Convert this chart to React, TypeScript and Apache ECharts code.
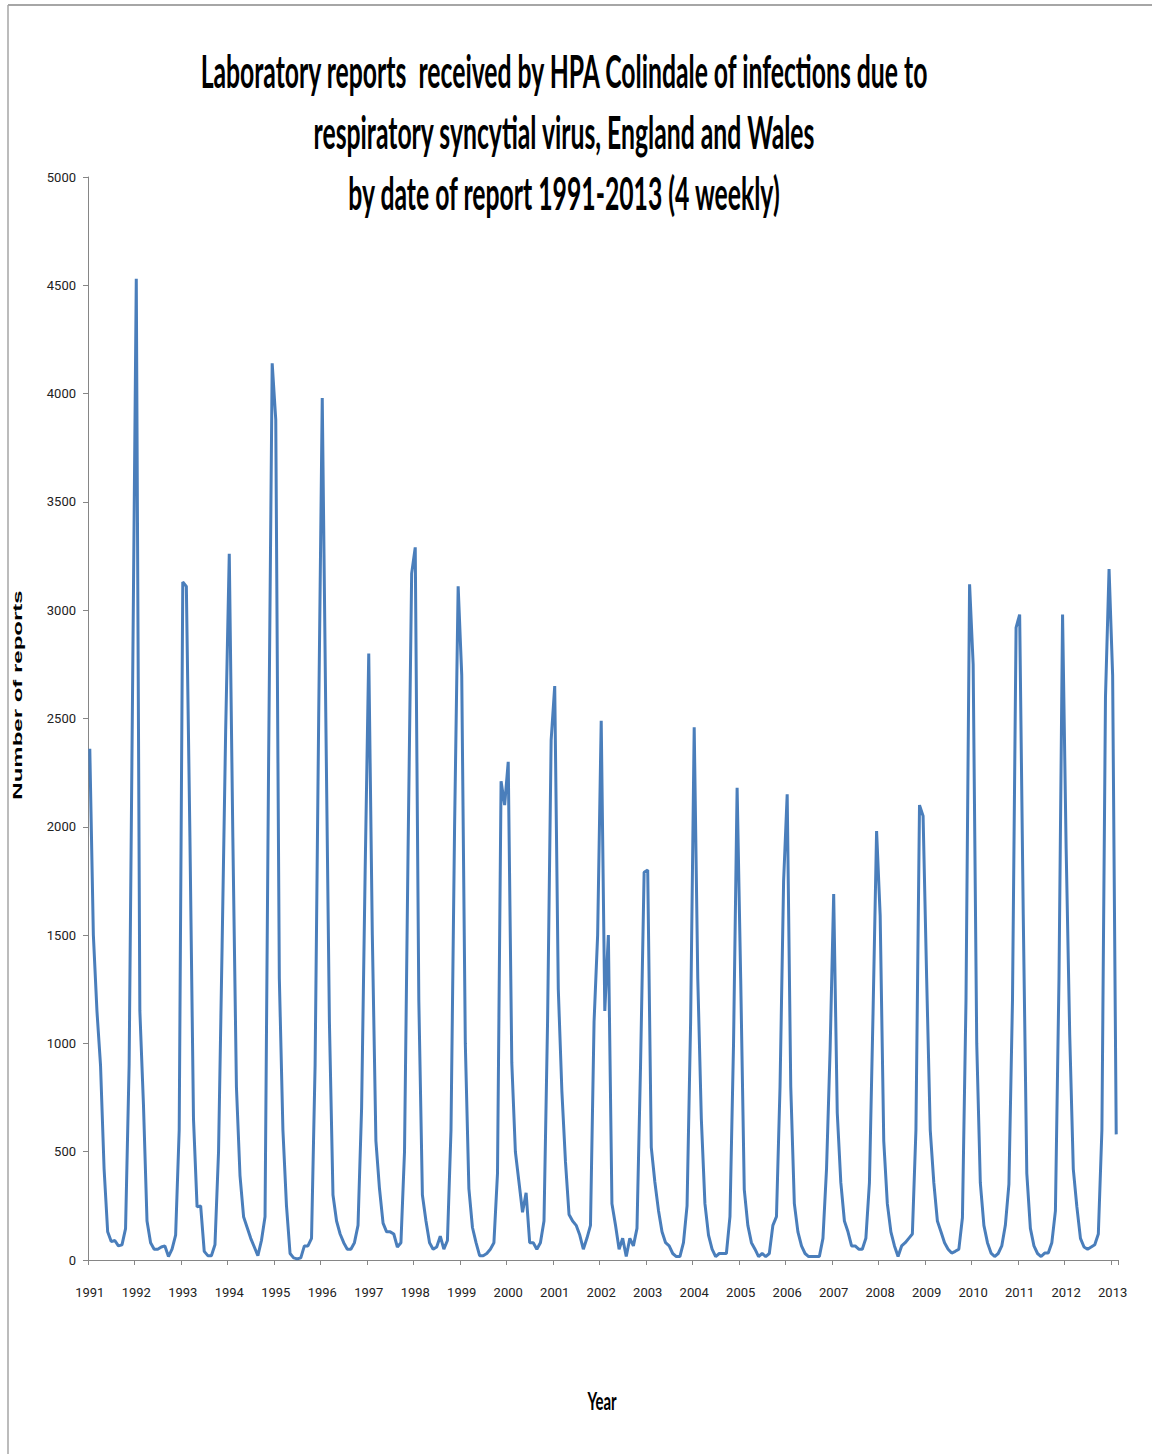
import React, { useEffect, useRef } from "react";
import * as echarts from "echarts";

// Year labels of the category axis (13 four-weekly periods per year)
const years = [
  1991, 1992, 1993, 1994, 1995, 1996, 1997, 1998, 1999, 2000, 2001, 2002,
  2003, 2004, 2005, 2006, 2007, 2008, 2009, 2010, 2011, 2012, 2013,
];
const periodsPerYear = 13;
const periodsIn2013 = 2;

// Number of laboratory reports, 4-weekly, 1991 period 1 .. 2013 period 2
const reports = [
  // 1991
  2360, 1500, 1150, 900, 420, 130, 85, 90, 65, 70, 145, 900, 2700,
  // 1992
  4530, 1150, 720, 180, 80, 50, 50, 60, 65, 16, 50, 115, 600,
  // 1993
  3130, 3110, 1950, 650, 245, 250, 40, 20, 20, 70, 500, 1450, 2450,
  // 1994
  3260, 1950, 800, 390, 200, 150, 100, 60, 20, 90, 200, 2300, 4140,
  // 1995
  3880, 1300, 600, 250, 30, 10, 5, 10, 65, 65, 100, 900, 2500,
  // 1996
  3980, 2500, 1100, 300, 180, 120, 80, 50, 50, 80, 160, 700, 1800,
  // 1997
  2800, 1500, 550, 330, 170, 130, 130, 120, 60, 80, 500, 1900, 3170,
  // 1998
  3290, 1200, 300, 180, 80, 50, 60, 110, 50, 90, 600, 2000, 3110,
  // 1999
  2700, 1000, 330, 150, 80, 20, 20, 30, 50, 80, 400, 2210, 2100,
  // 2000
  2300, 910, 500, 360, 220, 310, 80, 80, 50, 80, 180, 1100, 2400,
  // 2001
  2650, 1250, 780, 455, 210, 180, 160, 115, 50, 100, 160, 1100, 1500,
  // 2002
  2490, 1150, 1500, 260, 160, 50, 100, 16, 100, 65, 146, 900, 1790,
  // 2003
  1800, 520, 360, 230, 130, 80, 65, 30, 16, 16, 80, 250, 1100,
  // 2004
  2460, 1300, 650, 260, 115, 50, 16, 30, 30, 30, 200, 1000, 2180,
  // 2005
  1300, 325, 160, 80, 50, 16, 30, 16, 30, 160, 200, 800, 1750,
  // 2006
  2150, 800, 260, 130, 65, 30, 16, 16, 16, 16, 100, 420, 970,
  // 2007
  1690, 680, 357, 180, 130, 65, 65, 50, 50, 100, 357, 1136, 1980,
  // 2008
  1590, 550, 260, 130, 65, 16, 65, 80, 100, 120, 600, 2100, 2050,
  // 2009
  1300, 600, 357, 180, 130, 80, 50, 32, 40, 50, 195, 1200, 3120,
  // 2010
  2750, 1000, 357, 160, 80, 32, 16, 30, 65, 160, 350, 1200, 2920,
  // 2011
  2980, 1600, 400, 146, 65, 30, 16, 32, 32, 80, 227, 1300, 2980,
  // 2012
  1900, 1040, 420, 245, 100, 60, 50, 60, 70, 120, 600, 2600, 3190,
  // 2013
  2700, 580,
];

const yMin = 0;
const yMax = 5000;
const yStep = 500;

const titleLines = [
  "Laboratory reports  received by HPA Colindale of infections due to",
  "respiratory syncytial virus, England and Wales",
  "by date of report 1991-2013 (4 weekly)",
];
const xAxisTitle = "Year";
const yAxisTitle = "Number of reports";

const categories: string[] = [];
years.forEach((y) => {
  const n = y === 2013 ? periodsIn2013 : periodsPerYear;
  for (let p = 1; p <= n; p++) categories.push(`${y}-P${p}`);
});

export default function App() {
  const ref = useRef<HTMLDivElement>(null);
  useEffect(() => {
    if (!ref.current) return;
    const chart = echarts.init(ref.current, undefined, { renderer: "svg" });
    const titleFont = "Lato, 'Open Sans', sans-serif";
    chart.setOption({
      animation: false,
      backgroundColor: "#ffffff",
      grid: { left: 88, right: 34, top: 177, bottom: 194, containLabel: false },
      xAxis: {
        type: "category",
        data: categories,
        boundaryGap: true,
        axisLine: { show: true, lineStyle: { color: "#868686", width: 1 } },
        axisTick: {
          show: true,
          interval: (i: number) => i % periodsPerYear === 0,
          length: 5,
          lineStyle: { color: "#868686" },
        },
        axisLabel: {
          interval: (i: number) => i % periodsPerYear === 0,
          formatter: (v: string) => v.slice(0, 4),
          margin: 26,
          fontSize: 13,
          color: "#222",
          fontFamily: "Roboto, sans-serif",
        },
        splitLine: { show: false },
      },
      yAxis: {
        type: "value",
        min: yMin,
        max: yMax,
        interval: yStep,
        axisLine: { show: true, lineStyle: { color: "#868686", width: 1 } },
        axisTick: { show: true, length: 5, lineStyle: { color: "#868686" } },
        axisLabel: {
          margin: 12,
          fontSize: 13,
          color: "#222",
          fontFamily: "Roboto, sans-serif",
          formatter: (v: number) => String(v),
        },
        splitLine: { show: false },
      },
      series: [
        {
          type: "line",
          data: reports,
          showSymbol: false,
          smooth: false,
          lineStyle: { color: "#4a7ebb", width: 3 },
          itemStyle: { color: "#4a7ebb" },
        },
      ],
      graphic: [
        {
          type: "line",
          shape: { x1: 8, y1: 5, x2: 1152, y2: 5 },
          style: { stroke: "#a6a6a6", lineWidth: 2 },
        },
        {
          type: "line",
          shape: { x1: 8, y1: 5, x2: 8, y2: 1454 },
          style: { stroke: "#a6a6a6", lineWidth: 1.5 },
        },
        ...titleLines.map((t, k) => ({
          type: "text",
          x: 564,
          y: 71 + k * 61,
          scaleX: 1.125,
          scaleY: 2.05,
          style: {
            text: t,
            textAlign: "center",
            textVerticalAlign: "middle",
            font: `bold 22px ${titleFont}`,
            fill: "#000",
          },
        })),
        {
          type: "text",
          x: 602,
          y: 1400,
          scaleY: 1.7,
          style: {
            text: xAxisTitle,
            textAlign: "center",
            textVerticalAlign: "middle",
            font: `bold 15px ${titleFont}`,
            fill: "#000",
          },
        },
        {
          type: "text",
          x: 18,
          y: 695,
          rotation: Math.PI / 2,
          scaleX: 2.0,
          style: {
            text: yAxisTitle,
            textAlign: "center",
            textVerticalAlign: "middle",
            font: "bold 12px 'Liberation Sans', Arial, sans-serif",
            fill: "#000",
          },
        },
      ],
    });
    return () => chart.dispose();
  }, []);
  return (
    <div
      ref={ref}
      style={{
        position: "absolute",
        left: 0,
        top: 0,
        width: 1152,
        height: 1454,
        background: "#fff",
      }}
    />
  );
}
